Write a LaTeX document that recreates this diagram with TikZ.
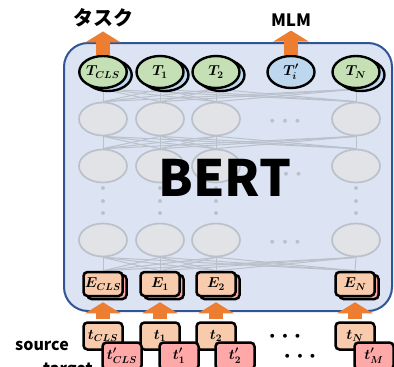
\documentclass[tikz,border=0pt]{standalone}
\usepackage{fontspec}
\newfontfamily\jpfont{Noto Sans CJK JP}
\usepackage{tikz}
\usetikzlibrary{positioning,arrows.meta,shapes.geometric,shadows}

\definecolor{bertfill}{HTML}{DCE3F2}
\definecolor{bertline}{HTML}{2F5597}
\definecolor{hidfill}{HTML}{E1E3E7}
\definecolor{hidline}{HTML}{BBC1CB}
\definecolor{outgreen}{HTML}{C5E0B4}
\definecolor{outblue}{HTML}{BDD7EE}
\definecolor{embfill}{HTML}{F8CBAD}
\definecolor{tgtfill}{HTML}{FFA8A8}
\definecolor{arrorange}{HTML}{ED7D31}

\pgfdeclarelayer{back}
\pgfdeclarelayer{wires}
\pgfsetlayers{back,wires,main}

\begin{document}
\begin{tikzpicture}[
  x=1pt, y=-1pt,
  lbl/.style={font=\fontsize{14.5}{14.5}\selectfont\boldmath},
  outp/.style={ellipse, draw, line width=2.4pt, fill=outgreen, minimum width=47pt,
               minimum height=32pt, inner sep=0pt, lbl},
  outsh/.style={copy shadow={fill=outblue, shadow xshift=5pt, shadow yshift=-3pt}},
  hid/.style={ellipse, draw=hidline, line width=1.7pt, fill=hidfill,
              minimum width=48pt, minimum height=33pt},
  emb/.style={draw, rounded corners=4pt, line width=2.5pt, fill=embfill,
              minimum width=39pt, minimum height=24pt, inner sep=0pt, lbl,
              copy shadow={fill=tgtfill, shadow xshift=4pt, shadow yshift=-3pt}},
  tok/.style={draw, rounded corners=4pt, line width=2.5pt, fill=embfill,
              minimum width=39pt, minimum height=27pt, inner sep=0pt, lbl},
  wire/.style={draw=hidline, line width=1pt},
  gdots/.style={text=hidline, font=\fontsize{25}{25}\selectfont\boldmath, inner sep=0pt,
                text height=12.5pt, text depth=0pt},
  kdots/.style={font=\fontsize{25}{25}\selectfont\boldmath, inner sep=0pt,
                text height=12.5pt, text depth=0pt},
  blockarr/.style={draw=arrorange, line width=14pt, -{Triangle[width=35pt,length=11pt]}},
  word/.style={font=\jpfont\bfseries\fontsize{#1}{#1}\selectfont, inner sep=0pt}
]
\useasboundingbox (0,0) rectangle (394,367);
% --- encoder frame -----------------------------------------------------
\begin{pgfonlayer}{back}
  \node[draw=bertline, fill=bertfill, line width=2pt, rounded corners=24pt,
        minimum width=328pt, minimum height=268pt] (frame) at (228,177) {};
\end{pgfonlayer}
% --- output row --------------------------------------------------------
\node[outp, outsh]        (Tcls) at (103,72) {$T_{CLS}$};
\node[outp, outsh]        (T1)   at (160,72) {$T_1$};
\node[outp, outsh]        (T2)   at (216,72) {$T_2$};
\node[outp, fill=outblue] (Ti)   at (291,72) {$T'_i$};
\node[outp, outsh]        (Tn)   at (356,72) {$T_N$};
\node[word=20] (task) at (103,18) {タスク};
\node[word=17] (mlm)  at (291,20) {MLM};
% --- hidden layers -----------------------------------------------------
\foreach \c/\x in {cls/103,1/160,2/216,n/356} {
  \node[hid] (h1\c) at (\x,119) {};
  \node[hid] (h2\c) at (\x,166) {};
  \node[gdots, rotate=90] (vd\c) at (\x,201) {$\cdots$};
  \node[hid] (h4\c) at (\x,240) {};
}
\node[gdots] (hd1) at (285,121) {$\cdots$};
\node[gdots] (hd2) at (286,174) {$\cdots$};
\node[gdots] (hd4) at (285,242) {$\cdots$};
% --- embeddings and input tokens ---------------------------------------
\node[emb] (Ecls) at (103,284) {$E_{CLS}$};
\node[emb] (E1)   at (160,284) {$E_1$};
\node[emb] (E2)   at (216,284) {$E_2$};
\node[emb] (En)   at (355,284) {$E_N$};
\node[tok] (scls) at (103,336) {$t_{CLS}$};
\node[tok] (s1)   at (160,336) {$t_1$};
\node[tok] (s2)   at (216,336) {$t_2$};
\node[tok] (sn)   at (355,336) {$t_N$};
\node[tok, fill=tgtfill, anchor=north west] (gcls) at ([shift={(19,20)}]scls.north west) {$t'_{CLS}$};
\node[tok, fill=tgtfill, anchor=north west] (g1)   at ([shift={(19,20)}]s1.north west) {$t'_1$};
\node[tok, fill=tgtfill, anchor=north west] (g2)   at ([shift={(19,20)}]s2.north west) {$t'_2$};
\node[tok, fill=tgtfill, anchor=north west] (gm)   at ([shift={(19,20)}]sn.north west) {$t'_M$};
\node[kdots] (sdots) at (285,336) {$\cdots$};
\node[kdots] (gdots) at (300,356) {$\cdots$};
\node[word=16, anchor=base] (srclbl) at (42,350) {source};
\node[word=16, anchor=base] (tgtlbl) at (68,374) {target};
% --- wiring between layers ---------------------------------------------
\begin{pgfonlayer}{wires}
\foreach \p in {cls,1,2,n} \foreach \q in {cls,1,2,n} {
  \draw[wire] (T\p.south)  -- (h1\q.north);
  \draw[wire] (h1\p.south) -- (h2\q.north);
  \draw[wire] (h4\p.south) -- (E\q.north);
}
\end{pgfonlayer}
% --- block arrows ------------------------------------------------------
\draw[blockarr, shorten >=4pt] (Tcls) -- (task);
\draw[blockarr, shorten >=4pt] (Ti) -- (mlm);
\foreach \c in {cls,1,2,n}
  \draw[blockarr, shorten >=5pt, shorten <=2pt] (s\c) -- (E\c);
\node[word=50] (bertlbl) at (225,178) {BERT};
\end{tikzpicture}
\end{document}
